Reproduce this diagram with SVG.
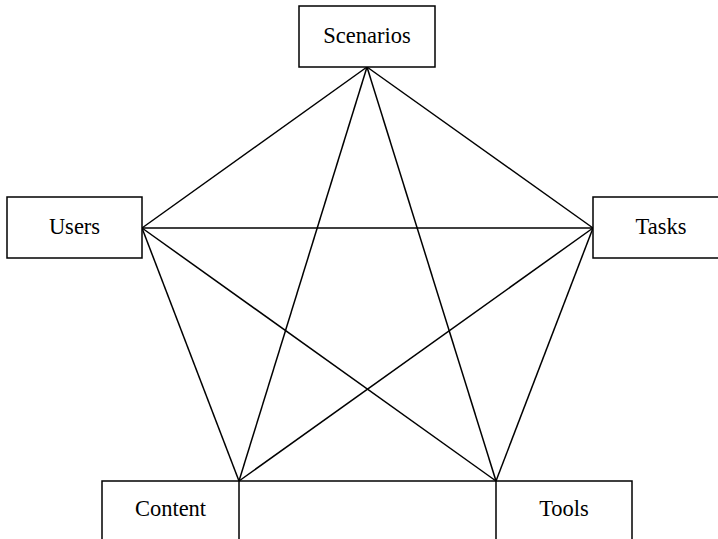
<svg xmlns="http://www.w3.org/2000/svg" width="718" height="539" viewBox="0 0 718 539">
<style>
.box{fill:#fff;stroke:#000;stroke-width:1.5}
.lbl{font-family:"Liberation Serif","Times New Roman",serif;font-size:22.5px;fill:#000;text-anchor:middle}
.edge{stroke:#000;stroke-width:1.5;fill:none}
</style>
<rect width="718" height="539" fill="#fff"/>
<g id="connectors">
<line class="edge" x1="367" y1="67" x2="142" y2="228"/>
<line class="edge" x1="367" y1="67" x2="593" y2="228"/>
<line class="edge" x1="367" y1="67" x2="239" y2="481"/>
<line class="edge" x1="367" y1="67" x2="496" y2="481"/>
<line class="edge" x1="142" y1="228" x2="593" y2="228"/>
<line class="edge" x1="142" y1="228" x2="239" y2="481"/>
<line class="edge" x1="142" y1="228" x2="496" y2="481"/>
<line class="edge" x1="593" y1="228" x2="239" y2="481"/>
<line class="edge" x1="593" y1="228" x2="496" y2="481"/>
<line class="edge" x1="239" y1="481" x2="496" y2="481"/>
</g>
<g id="scenarios"><rect class="box" x="299" y="6" width="136" height="61"/><text class="lbl" x="367" y="43">Scenarios</text></g>
<g id="users"><rect class="box" x="7" y="197" width="135" height="61"/><text class="lbl" x="74.5" y="234">Users</text></g>
<g id="tasks"><rect class="box" x="593" y="197" width="136" height="61"/><text class="lbl" x="661" y="234">Tasks</text></g>
<g id="content"><rect class="box" x="102" y="481" width="137" height="61"/><text class="lbl" x="170.5" y="516">Content</text></g>
<g id="tools"><rect class="box" x="496" y="481" width="136" height="61"/><text class="lbl" x="564" y="516">Tools</text></g>
</svg>
